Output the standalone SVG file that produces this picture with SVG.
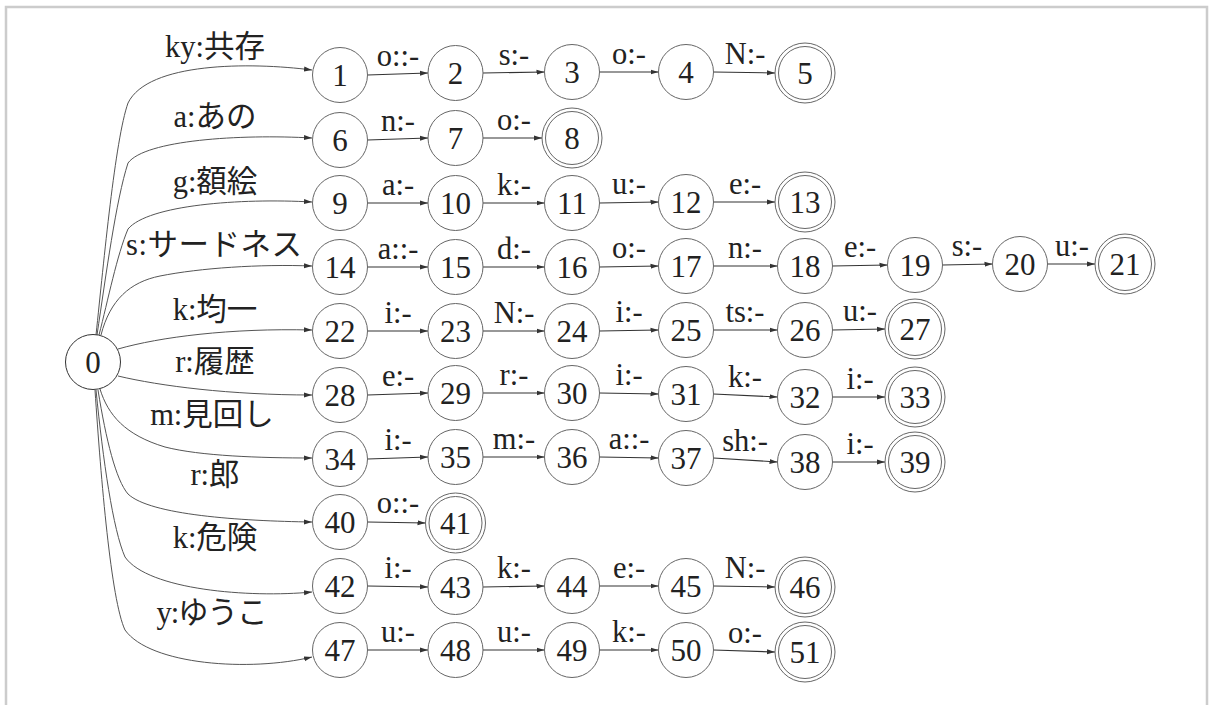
<svg xmlns="http://www.w3.org/2000/svg" width="1214" height="705" viewBox="0 0 1214 705">
<style>
.n{fill:#fff;stroke:#666;stroke-width:1}
.t{font-family:"Liberation Serif","Noto Sans CJK JP",serif;font-size:31px;fill:#222;text-anchor:middle}
.l{font-family:"Liberation Serif","Noto Sans CJK JP",serif;font-size:30.5px;fill:#222;text-anchor:middle}
.e{fill:none;stroke:#333;stroke-width:1.1;marker-end:url(#a)}
.c{fill:none;stroke:#555;stroke-width:1;marker-end:url(#a)}
</style>
<defs>
<marker id="a" markerUnits="userSpaceOnUse" markerWidth="9" markerHeight="6" refX="8" refY="3" orient="auto"><path d="M0,0.5 L8,3 L0,5.5 z" fill="#333"/></marker>
</defs>
<rect width="1214" height="705" fill="#fff"/>
<path d="M6,706 V7 H1207 V706" fill="none" stroke="#ccc" stroke-width="2.5"/>
<g id="connectors">
<path class="c" d="M96,335 C104,260 115,140 128,103 C148,62 250,62 312,70"/>
<path class="c" d="M97,335 C106,275 116,200 128,163 C145,140 240,134 312,138"/>
<path class="c" d="M99,335 C108,300 117,255 128,229 C148,205 240,198 312,202"/>
<path class="c" d="M101,335 C110,300 130,282 160,276 C200,268 260,264 312,266"/>
<path class="c" d="M118,349 C160,337 230,328 312,330"/>
<path class="c" d="M118,376 C160,386 230,395 312,395"/>
<path class="c" d="M100,389 C108,415 125,435 165,447 C200,456 260,458 312,458"/>
<path class="c" d="M98,390 C106,440 116,480 128,494 C150,515 240,521 312,522"/>
<path class="c" d="M96,390 C103,460 113,530 125,557 C148,590 250,598 312,592"/>
<path class="c" d="M95,390 C101,480 111,600 125,630 C150,665 250,672 312,657"/>
<text class="l" x="215" y="57">ky:共存</text>
<text class="l" x="215" y="127">a:あの</text>
<text class="l" x="215" y="192">g:額絵</text>
<text class="l" x="214" y="255" textLength="176" lengthAdjust="spacing">s:サードネス</text>
<text class="l" x="215" y="320">k:均一</text>
<text class="l" x="215" y="372">r:履歴</text>
<text class="l" x="212" y="425">m:見回し</text>
<text class="l" x="215" y="485">r:郎</text>
<text class="l" x="215" y="548">k:危険</text>
<text class="l" x="212" y="623" textLength="111" lengthAdjust="spacing">y:ゆうこ</text>
<!-- row1 -->
<line class="e" x1="367.5" y1="75" x2="428" y2="73"/><text class="l" x="398" y="66">o::-</text>
<line class="e" x1="483" y1="73" x2="544.5" y2="72"/><text class="l" x="514" y="65">s:-</text>
<line class="e" x1="599.5" y1="72" x2="658.5" y2="72"/><text class="l" x="629" y="64">o:-</text>
<line class="e" x1="713.5" y1="72" x2="775" y2="73"/><text class="l" x="745" y="64">N:-</text>
<!-- row2 -->
<line class="e" x1="367.5" y1="140" x2="428" y2="138"/><text class="l" x="398" y="131">n:-</text>
<line class="e" x1="483" y1="138" x2="542" y2="138"/><text class="l" x="514" y="130">o:-</text>
<!-- row3 -->
<line class="e" x1="367.5" y1="203" x2="428" y2="203"/><text class="l" x="398" y="195">a:-</text>
<line class="e" x1="483" y1="203" x2="544.5" y2="203"/><text class="l" x="514" y="195">k:-</text>
<line class="e" x1="599.5" y1="203" x2="658.5" y2="202"/><text class="l" x="629" y="194">u:-</text>
<line class="e" x1="713.5" y1="202" x2="775" y2="202"/><text class="l" x="745" y="194">e:-</text>
<!-- row4 -->
<line class="e" x1="367.5" y1="267" x2="428" y2="267"/><text class="l" x="398" y="259">a::-</text>
<line class="e" x1="483" y1="267" x2="544.5" y2="267"/><text class="l" x="514" y="259">d:-</text>
<line class="e" x1="599.5" y1="267" x2="658.5" y2="266"/><text class="l" x="629" y="258">o:-</text>
<line class="e" x1="713.5" y1="266" x2="777.5" y2="266"/><text class="l" x="745" y="258">n:-</text>
<line class="e" x1="832.5" y1="266" x2="887.5" y2="265"/><text class="l" x="860" y="257">e:-</text>
<line class="e" x1="942.5" y1="265" x2="992.5" y2="264"/><text class="l" x="967" y="256">s:-</text>
<line class="e" x1="1047.5" y1="264" x2="1095" y2="264"/><text class="l" x="1072" y="256">u:-</text>
<!-- row5 -->
<line class="e" x1="367.5" y1="331" x2="428" y2="331"/><text class="l" x="398" y="323">i:-</text>
<line class="e" x1="483" y1="331" x2="544.5" y2="331"/><text class="l" x="514" y="323">N:-</text>
<line class="e" x1="599.5" y1="331" x2="658.5" y2="330"/><text class="l" x="629" y="322">i:-</text>
<line class="e" x1="713.5" y1="330" x2="777.5" y2="330"/><text class="l" x="745" y="322">ts:-</text>
<line class="e" x1="832.5" y1="330" x2="885" y2="329"/><text class="l" x="860" y="321">u:-</text>
<!-- row6 -->
<line class="e" x1="367.5" y1="395" x2="428" y2="393"/><text class="l" x="398" y="386">e:-</text>
<line class="e" x1="483" y1="393" x2="544.5" y2="393"/><text class="l" x="514" y="385">r:-</text>
<line class="e" x1="599.5" y1="393" x2="658.5" y2="394"/><text class="l" x="629" y="385">i:-</text>
<line class="e" x1="713.5" y1="394" x2="777.5" y2="397"/><text class="l" x="745" y="387">k:-</text>
<line class="e" x1="832.5" y1="397" x2="885" y2="397"/><text class="l" x="860" y="389">i:-</text>
<!-- row7 -->
<line class="e" x1="367.5" y1="459" x2="428" y2="457"/><text class="l" x="398" y="450">i:-</text>
<line class="e" x1="483" y1="457" x2="544.5" y2="457"/><text class="l" x="514" y="449">m:-</text>
<line class="e" x1="599.5" y1="457" x2="658.5" y2="458"/><text class="l" x="629" y="449">a::-</text>
<line class="e" x1="713.5" y1="458" x2="777.5" y2="462"/><text class="l" x="745" y="451">sh:-</text>
<line class="e" x1="832.5" y1="462" x2="885" y2="462"/><text class="l" x="860" y="454">i:-</text>
<!-- row8 -->
<line class="e" x1="367.5" y1="522" x2="425.5" y2="523"/><text class="l" x="398" y="513">o::-</text>
<!-- row9 -->
<line class="e" x1="367.5" y1="586" x2="428" y2="587"/><text class="l" x="398" y="578">i:-</text>
<line class="e" x1="483" y1="587" x2="544.5" y2="586"/><text class="l" x="514" y="578">k:-</text>
<line class="e" x1="599.5" y1="586" x2="658.5" y2="586"/><text class="l" x="629" y="578">e:-</text>
<line class="e" x1="713.5" y1="586" x2="775" y2="587"/><text class="l" x="745" y="578">N:-</text>
<!-- row10 -->
<line class="e" x1="367.5" y1="650" x2="428" y2="650"/><text class="l" x="398" y="642">u:-</text>
<line class="e" x1="483" y1="650" x2="544.5" y2="650"/><text class="l" x="514" y="642">u:-</text>
<line class="e" x1="599.5" y1="650" x2="658.5" y2="650"/><text class="l" x="629" y="642">k:-</text>
<line class="e" x1="713.5" y1="650" x2="775" y2="652"/><text class="l" x="745" y="643">o:-</text>
</g>
<g id="n0"><circle class="n" cx="93" cy="362" r="27.5" style="stroke:#333"/><text class="t" x="93" y="373">0</text></g>
<g id="n1"><circle class="n" cx="340" cy="75" r="27.5"/><text class="t" x="340" y="86">1</text></g>
<g id="n2"><circle class="n" cx="455.5" cy="73" r="27.5"/><text class="t" x="455.5" y="84">2</text></g>
<g id="n3"><circle class="n" cx="572" cy="72" r="27.5"/><text class="t" x="572" y="83">3</text></g>
<g id="n4"><circle class="n" cx="686" cy="72" r="27.5"/><text class="t" x="686" y="83">4</text></g>
<g id="n5"><circle class="n" cx="805" cy="73" r="30"/><circle class="n" cx="805" cy="73" r="26.5"/><text class="t" x="805" y="84">5</text></g>
<g id="n6"><circle class="n" cx="340" cy="140" r="27.5"/><text class="t" x="340" y="151">6</text></g>
<g id="n7"><circle class="n" cx="455.5" cy="138" r="27.5"/><text class="t" x="455.5" y="149">7</text></g>
<g id="n8"><circle class="n" cx="572" cy="138" r="30"/><circle class="n" cx="572" cy="138" r="26.5"/><text class="t" x="572" y="149">8</text></g>
<g id="n9"><circle class="n" cx="340" cy="203" r="27.5"/><text class="t" x="340" y="214">9</text></g>
<g id="n10"><circle class="n" cx="455.5" cy="203" r="27.5"/><text class="t" x="455.5" y="214">10</text></g>
<g id="n11"><circle class="n" cx="572" cy="203" r="27.5"/><text class="t" x="572" y="214">11</text></g>
<g id="n12"><circle class="n" cx="686" cy="202" r="27.5"/><text class="t" x="686" y="213">12</text></g>
<g id="n13"><circle class="n" cx="805" cy="202" r="30"/><circle class="n" cx="805" cy="202" r="26.5"/><text class="t" x="805" y="213">13</text></g>
<g id="n14"><circle class="n" cx="340" cy="267" r="27.5"/><text class="t" x="340" y="278">14</text></g>
<g id="n15"><circle class="n" cx="455.5" cy="267" r="27.5"/><text class="t" x="455.5" y="278">15</text></g>
<g id="n16"><circle class="n" cx="572" cy="267" r="27.5"/><text class="t" x="572" y="278">16</text></g>
<g id="n17"><circle class="n" cx="686" cy="266" r="27.5"/><text class="t" x="686" y="277">17</text></g>
<g id="n18"><circle class="n" cx="805" cy="266" r="27.5"/><text class="t" x="805" y="277">18</text></g>
<g id="n19"><circle class="n" cx="915" cy="265" r="27.5"/><text class="t" x="915" y="276">19</text></g>
<g id="n20"><circle class="n" cx="1020" cy="264" r="27.5"/><text class="t" x="1020" y="275">20</text></g>
<g id="n21"><circle class="n" cx="1125" cy="264" r="30"/><circle class="n" cx="1125" cy="264" r="26.5"/><text class="t" x="1125" y="275">21</text></g>
<g id="n22"><circle class="n" cx="340" cy="331" r="27.5"/><text class="t" x="340" y="342">22</text></g>
<g id="n23"><circle class="n" cx="455.5" cy="331" r="27.5"/><text class="t" x="455.5" y="342">23</text></g>
<g id="n24"><circle class="n" cx="572" cy="331" r="27.5"/><text class="t" x="572" y="342">24</text></g>
<g id="n25"><circle class="n" cx="686" cy="330" r="27.5"/><text class="t" x="686" y="341">25</text></g>
<g id="n26"><circle class="n" cx="805" cy="330" r="27.5"/><text class="t" x="805" y="341">26</text></g>
<g id="n27"><circle class="n" cx="915" cy="329" r="30"/><circle class="n" cx="915" cy="329" r="26.5"/><text class="t" x="915" y="340">27</text></g>
<g id="n28"><circle class="n" cx="340" cy="395" r="27.5"/><text class="t" x="340" y="406">28</text></g>
<g id="n29"><circle class="n" cx="455.5" cy="393" r="27.5"/><text class="t" x="455.5" y="404">29</text></g>
<g id="n30"><circle class="n" cx="572" cy="393" r="27.5"/><text class="t" x="572" y="404">30</text></g>
<g id="n31"><circle class="n" cx="686" cy="394" r="27.5"/><text class="t" x="686" y="405">31</text></g>
<g id="n32"><circle class="n" cx="805" cy="397" r="27.5"/><text class="t" x="805" y="408">32</text></g>
<g id="n33"><circle class="n" cx="915" cy="397" r="30"/><circle class="n" cx="915" cy="397" r="26.5"/><text class="t" x="915" y="408">33</text></g>
<g id="n34"><circle class="n" cx="340" cy="459" r="27.5"/><text class="t" x="340" y="470">34</text></g>
<g id="n35"><circle class="n" cx="455.5" cy="457" r="27.5"/><text class="t" x="455.5" y="468">35</text></g>
<g id="n36"><circle class="n" cx="572" cy="457" r="27.5"/><text class="t" x="572" y="468">36</text></g>
<g id="n37"><circle class="n" cx="686" cy="458" r="27.5"/><text class="t" x="686" y="469">37</text></g>
<g id="n38"><circle class="n" cx="805" cy="462" r="27.5"/><text class="t" x="805" y="473">38</text></g>
<g id="n39"><circle class="n" cx="915" cy="462" r="30"/><circle class="n" cx="915" cy="462" r="26.5"/><text class="t" x="915" y="473">39</text></g>
<g id="n40"><circle class="n" cx="340" cy="522" r="27.5"/><text class="t" x="340" y="533">40</text></g>
<g id="n41"><circle class="n" cx="455.5" cy="523" r="30"/><circle class="n" cx="455.5" cy="523" r="26.5"/><text class="t" x="455.5" y="534">41</text></g>
<g id="n42"><circle class="n" cx="340" cy="586" r="27.5"/><text class="t" x="340" y="597">42</text></g>
<g id="n43"><circle class="n" cx="455.5" cy="587" r="27.5"/><text class="t" x="455.5" y="598">43</text></g>
<g id="n44"><circle class="n" cx="572" cy="586" r="27.5"/><text class="t" x="572" y="597">44</text></g>
<g id="n45"><circle class="n" cx="686" cy="586" r="27.5"/><text class="t" x="686" y="597">45</text></g>
<g id="n46"><circle class="n" cx="805" cy="587" r="30"/><circle class="n" cx="805" cy="587" r="26.5"/><text class="t" x="805" y="598">46</text></g>
<g id="n47"><circle class="n" cx="340" cy="650" r="27.5"/><text class="t" x="340" y="661">47</text></g>
<g id="n48"><circle class="n" cx="455.5" cy="650" r="27.5"/><text class="t" x="455.5" y="661">48</text></g>
<g id="n49"><circle class="n" cx="572" cy="650" r="27.5"/><text class="t" x="572" y="661">49</text></g>
<g id="n50"><circle class="n" cx="686" cy="650" r="27.5"/><text class="t" x="686" y="661">50</text></g>
<g id="n51"><circle class="n" cx="805" cy="652" r="30"/><circle class="n" cx="805" cy="652" r="26.5"/><text class="t" x="805" y="663">51</text></g>
</svg>
